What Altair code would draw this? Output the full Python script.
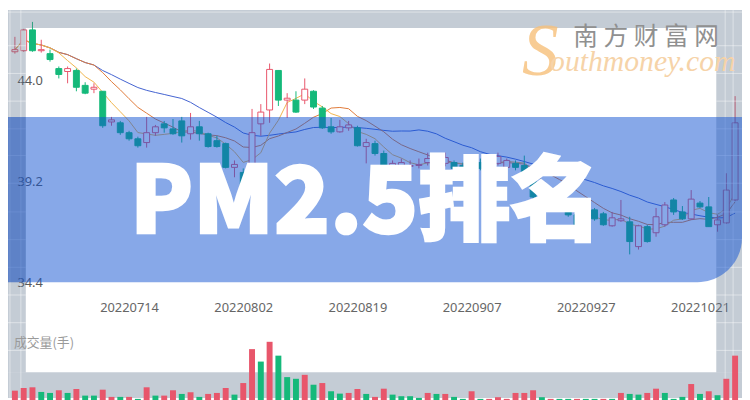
import altair as alt
import pandas as pd

# ---------------- data ----------------
dates = ["20220627","20220628","20220629","20220630","20220701","20220704","20220705","20220706","20220707","20220708",
         "20220711","20220712","20220713","20220714","20220715","20220718","20220719","20220720","20220721","20220722",
         "20220725","20220726","20220727","20220728","20220729","20220801","20220802","20220803","20220804","20220805",
         "20220808","20220809","20220810","20220811","20220812","20220815","20220816","20220817","20220818","20220819",
         "20220822","20220823","20220824","20220825","20220826","20220829","20220830","20220831","20220901","20220902",
         "20220905","20220906","20220907","20220908","20220909","20220913","20220914","20220915","20220916","20220919",
         "20220920","20220921","20220922","20220923","20220926","20220927","20220928","20220929","20220930","20221010",
         "20221011","20221012","20221013","20221014","20221017","20221018","20221019","20221020","20221021","20221024",
         "20221025","20221026","20221027"]

opens = [45.36, 45.41, 46.40, 45.41, 45.27, 44.56, 44.42, 44.47, 43.76, 43.58,
         43.48, 42.02, 41.98, 41.51, 41.22, 41.04, 41.51, 41.93, 41.69, 42.07,
         41.46, 41.79, 41.46, 41.13, 40.99, 39.86, 39.62, 38.92, 41.93, 42.59,
         44.47, 43.06, 43.06, 43.06, 43.48, 42.68, 41.79, 41.55, 41.74, 41.74,
         40.85, 40.99, 40.52, 39.91, 39.95, 39.91, 39.95, 40.09, 40.19, 40.05,
         40.09, 39.95, 39.91, 40.09, 40.05, 40.05, 39.86, 40.05, 39.95, 39.62,
         38.45, 38.07, 38.21, 37.93, 37.60, 37.27, 37.84, 37.65, 37.08, 37.32,
         37.27, 36.09, 37.04, 36.75, 37.13, 38.31, 37.74, 37.41, 38.16, 37.98,
         37.13, 37.22, 38.31]
closes = [45.46, 46.40, 45.41, 45.46, 44.99, 44.28, 44.56, 43.67, 43.39, 43.67,
          41.84, 42.12, 41.51, 41.22, 40.89, 41.51, 41.79, 41.74, 41.46, 41.36,
          41.79, 41.46, 40.85, 40.85, 39.86, 40.00, 38.92, 41.51, 42.49, 44.52,
          43.06, 43.15, 42.49, 43.58, 42.73, 41.74, 41.55, 41.79, 41.88, 40.89,
          41.04, 40.52, 39.81, 40.05, 40.09, 39.95, 40.00, 40.28, 39.95, 40.33,
          39.81, 39.81, 40.09, 39.81, 40.28, 40.38, 40.19, 39.86, 39.62, 38.45,
          38.07, 38.31, 37.84, 37.60, 37.04, 37.65, 37.41, 37.13, 37.46, 37.41,
          36.33, 37.08, 36.33, 37.51, 38.07, 37.74, 37.41, 38.35, 37.98, 37.04,
          37.36, 38.78, 41.98]
highs = [46.07, 46.45, 46.78, 45.93, 45.46, 44.66, 44.66, 44.56, 43.91, 43.86,
         43.48, 42.26, 42.07, 41.60, 41.32, 42.26, 41.88, 42.07, 42.16, 42.26,
         42.45, 42.07, 41.51, 41.36, 41.04, 40.19, 39.81, 42.64, 42.87, 44.80,
         44.47, 43.39, 43.48, 44.09, 43.53, 42.78, 42.21, 42.12, 42.07, 41.84,
         41.22, 41.13, 40.66, 40.19, 40.28, 40.19, 40.28, 40.56, 40.33, 40.56,
         40.19, 40.09, 40.42, 40.28, 40.42, 40.56, 40.28, 40.19, 40.42, 39.72,
         38.54, 38.49, 38.31, 38.07, 37.74, 37.84, 37.93, 37.74, 37.74, 38.31,
         37.51, 37.13, 37.13, 37.93, 38.21, 38.40, 38.02, 38.78, 38.26, 38.45,
         37.60, 39.58, 43.25]
lows = [45.27, 45.36, 45.36, 45.32, 44.89, 44.09, 43.86, 43.48, 43.34, 43.39,
        41.74, 41.84, 41.41, 41.13, 40.80, 40.80, 41.36, 41.51, 41.41, 41.04,
        41.18, 41.13, 40.80, 40.80, 39.81, 39.39, 38.78, 38.78, 41.36, 41.98,
        42.78, 42.21, 42.45, 42.87, 42.64, 41.69, 41.46, 41.51, 41.60, 40.85,
        40.05, 40.42, 39.72, 39.72, 39.81, 39.72, 39.81, 39.95, 39.86, 39.91,
        39.62, 39.72, 39.72, 39.72, 39.91, 39.95, 39.72, 39.72, 39.53, 38.35,
        37.98, 37.93, 37.74, 37.51, 36.94, 37.18, 37.32, 37.08, 37.04, 37.27,
        35.72, 35.95, 36.28, 36.56, 37.04, 37.60, 37.36, 37.36, 37.93, 37.04,
        36.80, 37.18, 38.26]
volumes = [11300, 14000, 14700, 10000, 9000, 11700, 9000, 13000, 6300, 6300,
           12300, 5000, 5000, 5000, 3000, 14700, 6300, 6300, 11700, 8000,
           9700, 5000, 8000, 9000, 14000, 7300, 19000, 53300, 40700, 60700,
           46700, 25000, 23300, 27300, 17300, 19000, 10700, 8300, 9000, 13000,
           8000, 5000, 13300, 7300, 5700, 5700, 4000, 9000, 8000, 8000,
           5000, 3000, 10700, 3000, 3000, 4700, 3000, 9000, 9000, 11700,
           4700, 3000, 3000, 3000, 3000, 3000, 3000, 3000, 3000, 9000,
           8000, 7300, 9000, 13300, 9000, 3000, 5000, 18000, 8000, 10700,
           6700, 23300, 46700]
vol_up = [1,1,1,0,0,1,0,1,0,0,
          1,1,0,1,0,1,0,1,1,0,
          1,0,1,1,1,0,1,1,0,1,
          0,0,0,1,0,1,0,0,1,1,
          0,1,1,0,0,0,0,1,0,1,
          0,0,1,0,1,1,1,1,1,1,
          0,1,0,0,1,0,0,1,0,1,
          0,0,1,1,0,0,0,1,0,1,
          0,1,1]

tick_dates = ["20220714", "20220802", "20220819", "20220907", "20220927", "20221021"]
price_ticks = [44.0, 39.2, 34.4]
title_text = "PM2.5排名"
vol_title = "成交量(手)"
wm_cn = "南 方 财 富 网"
wm_en = "outhmoney.com"

# ---------------- table ----------------
df = pd.DataFrame({
    "i": list(range(len(dates))),
    "date": dates, "open": opens, "close": closes, "high": highs, "low": lows,
    "vol": volumes,
})
df["dir"] = ["up" if c >= o else "down" for o, c in zip(opens, closes)]
df["vdir"] = ["up" if u else "down" for u in vol_up]

tick_idx = [dates.index(d) for d in tick_dates]
label_expr = "''"
for k, d in zip(tick_idx, tick_dates):
    label_expr = f"datum.value == {k} ? '{d}' : (" + label_expr + ")"

W, H = 742, 392
RED, GREEN = "#e8566b", "#15b97a"
VRED, VGREEN = "#d63d4e", "#1b9e77"

xscale = alt.Scale(domain=[-0.2222, 82.2222], nice=False, zero=False)
yscale = alt.Scale(domain=[28.894, 47.341], nice=False, zero=False)
vscale = alt.Scale(domain=[4000, 396000], nice=False, zero=False)

xaxis = alt.Axis(values=tick_idx, labelExpr=label_expr, orient="bottom", offset=-91,
                 ticks=False, tickSize=0, domain=False, grid=False, labelPadding=0,
                 labelBaseline="middle", labelFontSize=13, labelColor="#666666",
                 labelFont="Noto Sans", title=None, labelFlush=False, labelOverlap=False)
yaxis = alt.Axis(values=price_ticks, format=".1f", orient="left", labelAlign="left",
                 labelPadding=-9, ticks=False, tickSize=0, domain=False, grid=False,
                 labelColor="#5a5a5a", labelFontSize=13, labelFont="Noto Sans",
                 labelBaseline="middle", title=None, labelFlush=False, labelOverlap=False)

X = alt.X("i:Q", scale=xscale, axis=xaxis)
base = alt.Chart(df)

def ma_line(n, color):
    return base.transform_window(
        ma="mean(close)", frame=[-(n - 1), 0], sort=[{"field": "i"}]
    ).mark_line(color=color, strokeWidth=1).encode(
        x=X, y=alt.Y("ma:Q", scale=yscale, axis=yaxis))

wick = base.mark_rule(strokeWidth=1).encode(
    x=X, y=alt.Y("low:Q", scale=yscale, axis=yaxis), y2="high:Q",
    color=alt.Color("dir:N", scale=alt.Scale(domain=["up", "down"], range=[RED, GREEN]), legend=None))
body = base.mark_bar(size=6, strokeWidth=1).encode(
    x=X, y=alt.Y("open:Q", scale=yscale, axis=yaxis), y2="close:Q",
    fill=alt.Fill("dir:N", scale=alt.Scale(domain=["up", "down"], range=["#ffffff", GREEN]), legend=None),
    stroke=alt.Stroke("dir:N", scale=alt.Scale(domain=["up", "down"], range=[RED, GREEN]), legend=None))
price = alt.layer(ma_line(20, "#4362d0"), ma_line(10, "#e07a3a"), ma_line(5, "#f0b44c"), wick, body)

vol = base.mark_bar(size=6).encode(
    x=X, y=alt.Y("vol:Q", scale=vscale, axis=None), y2=alt.value(H),
    color=alt.Color("vdir:N", scale=alt.Scale(domain=["up", "down"], range=[VRED, VGREEN]), legend=None))

one = alt.Chart(pd.DataFrame({"k": [0]}))

def rect(x, x2, y, y2, color, opacity, **kw):
    return one.mark_rect(color=color, opacity=opacity, **kw).encode(
        x=alt.value(x), x2=alt.value(x2), y=alt.value(y), y2=alt.value(y2))

def rule(x, x2, y, y2, color="#ffffff", opacity=0.45):
    return one.mark_rule(color=color, opacity=opacity, strokeWidth=1).encode(
        x=alt.value(x), x2=alt.value(x2), y=alt.value(y), y2=alt.value(y2))

def text(t, x, y, **kw):
    return one.mark_text(text=t, **kw).encode(x=alt.value(x), y=alt.value(y))

FC, FO = "#566d87", 0.35
frame = [rect(0, W, 0, 18, FC, FO), rect(0, 18, 18, 366, FC, FO),
         rect(716, W, 18, 366, FC, FO), rect(0, W, 366, H, FC, FO)]
grid = [rule(0, W, 2, 2), rule(2, 2, 0, H), rule(13, 13, 0, H), rule(725, 725, 0, H), rule(733, 733, 0, H)]
for gy in [36, 64, 92, 120, 147, 175, 204, 232, 260, 288, 316, 344]:
    grid.append(rule(0, 18, gy, gy))
    grid.append(rule(716, W, gy, gy))

band = rect(0, W, 108, 275, "#0f51d1", 0.5, cornerRadiusBottomRight=45)
left_band = rect(0, 18, 108, 275, "#0a2a70", 0.12)

texts = [
    text(title_text, 362, 225, font="Noto Sans CJK SC", fontSize=93, fontWeight=900,
         color="#ffffff", stroke="#ffffff", strokeWidth=2.5, align="center", baseline="alphabetic"),
    text(vol_title, 6, 337, font="Noto Sans CJK SC", fontSize=13, color="#9a9a9a",
         align="left", baseline="middle"),
    text("S", 538, 66, font="Liberation Serif", fontSize=74, fontStyle="italic",
         color="#f7c07a", opacity=0.8, align="center", baseline="alphabetic"),
    text(wm_en, 548, 62, font="Liberation Serif", fontSize=30, fontStyle="italic",
         color="#f6d3a8", align="left", baseline="alphabetic"),
    text(wm_cn, 645, 27, font="Noto Sans CJK SC", fontSize=25, color="#909090",
         align="center", baseline="middle"),
]

chart = alt.layer(price, *frame, *grid, vol, band, left_band, *texts).resolve_scale(
    y="independent"
).properties(
    width=W, height=H, padding=0, background="#ffffff",
    autosize=alt.AutoSizeParams(type="none"),
).configure_view(strokeWidth=0)

chart.save("out.html", embed_options={"renderer": "svg", "actions": False})
